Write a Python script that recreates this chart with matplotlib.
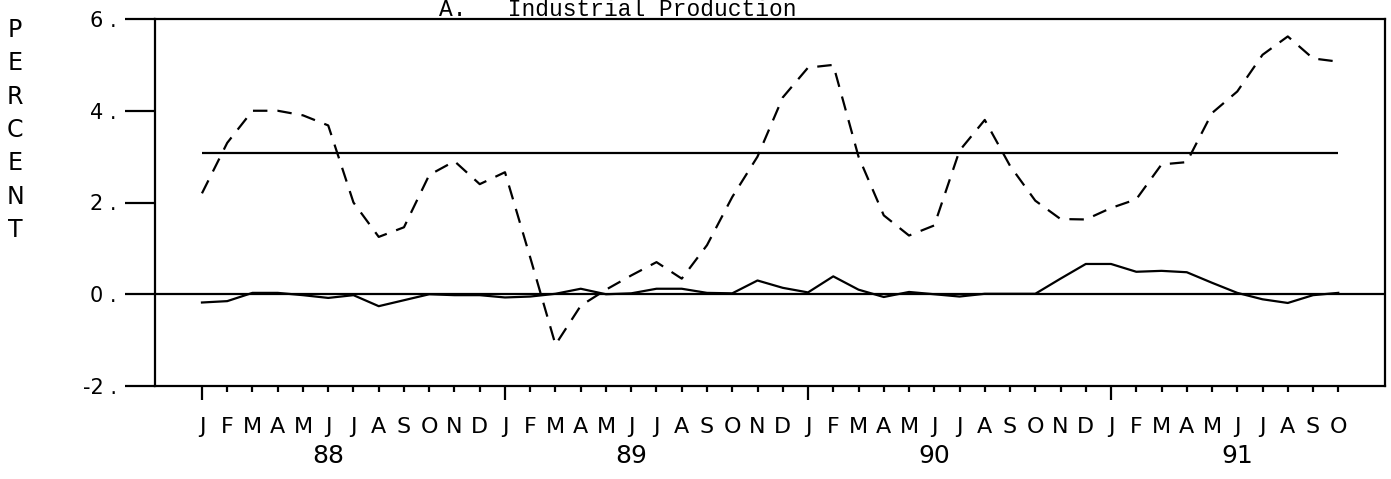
import matplotlib
matplotlib.use("Agg")
import matplotlib.pyplot as plt
import matplotlib.transforms as mtransforms

# ---------------- data ----------------
month_letters = ["J", "F", "M", "A", "M", "J", "J", "A", "S", "O", "N", "D"] * 3 + \
                ["J", "F", "M", "A", "M", "J", "J", "A", "S", "O"]
year_labels = ["88", "89", "90", "91"]
year_label_month = [5, 17, 29, 41]          # month index under which each year label sits
january_index = [0, 12, 24, 36]

series_dashed = [2.2, 3.3, 4.0, 4.0, 3.9, 3.68, 2.0, 1.25, 1.46, 2.6, 2.9, 2.4,
                 2.66, 0.8, -1.1, -0.25, 0.1, 0.41, 0.7, 0.34, 1.07, 2.12, 3.0, 4.29,
                 4.94, 5.0, 3.0, 1.72, 1.28, 1.5, 3.13, 3.8, 2.8, 2.04, 1.64, 1.63,
                 1.88, 2.07, 2.83, 2.88, 3.95, 4.42, 5.22, 5.62, 5.14, 5.07]
series_solid = [-0.18, -0.15, 0.03, 0.03, -0.02, -0.08, -0.02, -0.26, -0.13, 0.0, -0.02, -0.02,
                -0.07, -0.05, 0.01, 0.12, 0.0, 0.02, 0.12, 0.12, 0.03, 0.02, 0.3, 0.14,
                0.04, 0.39, 0.1, -0.06, 0.05, 0.0, -0.05, 0.01, 0.01, 0.01, 0.34, 0.66,
                0.66, 0.49, 0.51, 0.48, 0.25, 0.03, -0.11, -0.19, -0.02, 0.03]
mean_level = 3.08
y_ticks = [-2, 0, 2, 4, 6]
y_tick_labels = ["-2 .", "0 .", "2 .", "4 .", "6 ."]
title = "A.   Industrial Production"
ylabel_letters = list("PERCENT")

# ---------------- figure ----------------
W, H = 1391, 479
fig = plt.figure(figsize=(W / 100, H / 100), dpi=100)
ax = fig.add_axes([155 / W, 1 - 386 / H, (1385 - 155) / W, (386 - 19) / H])

sans = ["DejaVu Sans"]
lw = 1.6

x = list(range(len(series_dashed)))
ax.plot(x, series_dashed, color="black", lw=lw, linestyle=(0, (6.5, 4.5)),
        dash_capstyle="butt")
ax.plot(x, series_solid, color="black", lw=lw)
ax.axhline(0, color="black", lw=lw)
ax.hlines(mean_level, x[0], x[-1], color="black", lw=lw)

ax.set_xlim(-1.86, 46.85)
ax.set_ylim(-2, 6)

for s in ax.spines.values():
    s.set_linewidth(lw)

# y ticks
ax.set_yticks(y_ticks, labels=y_tick_labels)
ax.tick_params(axis="y", direction="out", length=21.5, width=lw, pad=6,
               labelsize=15)
for lab in ax.get_yticklabels():
    lab.set_family(sans)

# x ticks: long ticks at Januaries (major), short at other months (minor)
other_months = [i for i in x if i not in january_index]
ax.set_xticks(january_index, labels=[month_letters[i] for i in january_index])
ax.set_xticks(other_months, labels=[month_letters[i] for i in other_months], minor=True)
ax.tick_params(axis="x", which="major", direction="out", length=10, width=lw,
               pad=12, labelsize=16)
ax.tick_params(axis="x", which="minor", direction="out", length=4.3, width=lw,
               pad=12 + 10 - 4.3, labelsize=16)
for lab in ax.get_xticklabels(minor=False) + ax.get_xticklabels(minor=True):
    lab.set_family(sans)

# year labels
trans = mtransforms.blended_transform_factory(ax.transData, fig.transFigure)
for lbl, m in zip(year_labels, year_label_month):
    ax.text(m, 1 - 456 / H, lbl, transform=trans, ha="center", va="center",
            fontsize=18, family=sans)

# vertical y label
for k, ch in enumerate(ylabel_letters):
    fig.text(15 / W, 1 - (30 + 33.3 * k) / H, ch, ha="center", va="center",
             fontsize=17, family=sans)

# title
fig.text(618 / W, 1 - 16.5 / H, title, ha="center", va="baseline",
         fontsize=16.5, family=["Liberation Mono", "DejaVu Sans Mono"])

fig.savefig("out.png", dpi=100)
